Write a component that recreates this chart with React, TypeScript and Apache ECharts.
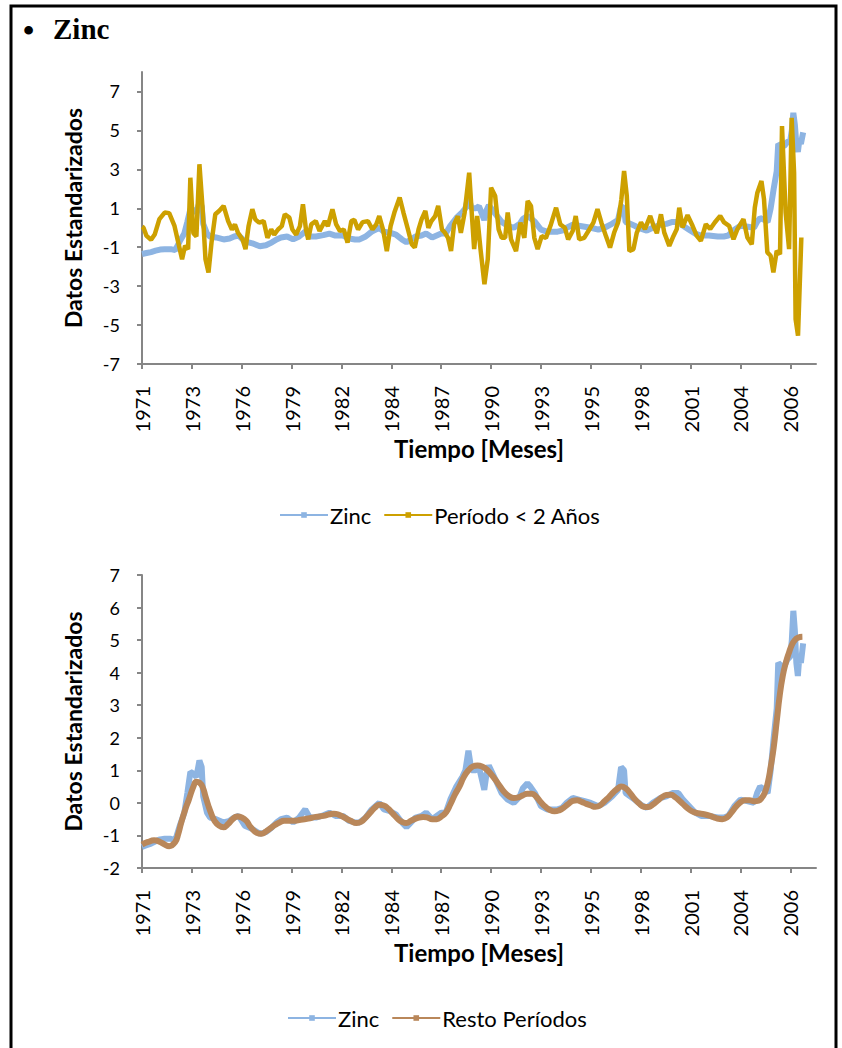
import React, { useEffect, useRef } from "react";
import * as echarts from "echarts";

// Monthly index: 0 = January 1971
const tickYears = ["1971", "1973", "1976", "1979", "1982", "1984", "1987", "1990", "1993", "1995", "1998", "2001", "2004", "2006"];
const tickStep = 33; // months between labelled ticks
const lastMonth = 446;
const xTickValues = tickYears.map((_, i) => i * tickStep);

const topYTicks = [-7, -5, -3, -1, 1, 3, 5, 7];

// Zinc, standardised price series [month, value]
const zinc: [number, number][] = [
  [0, -1.35], [3, -1.3], [6, -1.25], [9, -1.18], [12, -1.12], [15, -1.1], [19, -1.1], [22, -1.15], [25, -0.7], [28, -0.3],
  [30, 0.3], [32, 0.95], [34, 0.9], [36, 0.8], [38, 1.3], [39.5, 1.1], [40.5, 0.2], [43, -0.3], [45, -0.45], [49, -0.5],
  [54, -0.6], [58, -0.55], [61, -0.45], [64, -0.4], [68, -0.7], [73, -0.8], [78, -0.95], [82, -0.9], [86, -0.75], [89, -0.6],
  [92, -0.5], [96, -0.45], [100, -0.6], [104, -0.45], [108, -0.2], [111, -0.45], [115, -0.45], [120, -0.38], [124, -0.3], [128, -0.4],
  [133, -0.4], [137, -0.55], [141, -0.6], [144, -0.6], [148, -0.45], [152, -0.2], [157, 0.0], [160, -0.2], [164, -0.25], [168, -0.35],
  [172, -0.6], [175, -0.75], [178, -0.6], [181, -0.45], [185, -0.4], [188, -0.3], [192, -0.5], [195, -0.4], [198, -0.3], [201, -0.3],
  [204, 0.1], [208, 0.5], [212, 0.8], [214, 1.0], [216, 1.6], [218, 1.0], [221, 1.0], [223, 1.1], [225, 0.7], [226.5, 0.4],
  [228, 0.9], [229.5, 1.15], [232, 0.9], [235, 0.6], [238, 0.3], [242, 0.1], [246, 0.0], [250, 0.2], [252, 0.45], [255, 0.6],
  [257, 0.5], [260, 0.3], [264, -0.1], [268, -0.2], [271, -0.2], [275, -0.2], [278, -0.15], [281, 0.0], [285, 0.15], [289, 0.1],
  [293, 0.05], [297, 0.0], [302, -0.1], [306, 0.0], [311, 0.2], [315, 0.4], [317, 1.1], [319, 1.0], [320, 0.3], [323, 0.2],
  [326, 0.1], [330, -0.05], [334, -0.15], [338, 0.0], [343, 0.15], [347, 0.2], [351, 0.3], [355, 0.3], [358, 0.1], [362, -0.1],
  [366, -0.3], [370, -0.4], [375, -0.4], [381, -0.45], [385, -0.45], [388, -0.4], [392, -0.1], [396, 0.1], [401, 0.05], [405, 0.0],
  [407, 0.3], [409, 0.5], [412, 0.4], [414, 0.3], [416, 1.0], [418, 2.0], [420, 2.9], [421, 4.3], [423, 4.2], [425, 4.2],
  [427, 4.4], [429, 4.5], [430, 5.0], [431, 5.9], [432, 5.3], [433, 4.3], [434, 3.9], [435, 4.5], [436, 4.3], [437.5, 4.9],
];

// Short-period component (< 2 years)
const periodoCorto: [number, number][] = [
  [0, 0.05], [1, 0.0], [3, -0.42], [6, -0.62], [8.5, -0.33], [11.5, 0.44], [15, 0.78], [18, 0.75], [21.5, 0.09], [24, -0.76],
  [26.5, -1.62], [28.5, -0.93], [30.5, -1.1], [32, 2.57], [34, -0.28], [36, -0.45], [38, 3.26], [40, 1.1], [42, -1.62], [44, -2.3],
  [46, -0.76], [48.5, 0.69], [51, 0.86], [54, 1.12], [57, 0.34], [59.5, -0.09], [61.5, 0.17], [63.5, -0.26], [66.5, -0.6], [68.5, -1.1],
  [70.5, 0.08], [73, 0.95], [75, 0.43], [77.5, 0.26], [80.5, 0.34], [83, -0.52], [85.5, -0.09], [87.5, -0.35], [90, -0.09], [92.5, 0.08],
  [94.5, 0.69], [97.5, 0.52], [99.5, -0.09], [102, -0.35], [104.5, 0.08], [106.5, 1.2], [108.5, -0.09], [110, -0.6], [112, 0.17], [115, 0.34],
  [117.5, -0.17], [121, 0.34], [123, 0.08], [126, 0.95], [128.5, 0.17], [131, -0.17], [133.5, -0.09], [136, -0.76], [138.5, 0.34], [140.5, 0.4],
  [143, -0.09], [146, 0.29], [149.5, 0.34], [152.5, -0.09], [155, 0.17], [157, 0.6], [159.5, -0.09], [162, -1.2], [164.5, 0.08], [167, 0.78],
  [170.5, 1.55], [173, 0.78], [176, -0.09], [178.5, -0.85], [180.5, -1.02], [183, -0.09], [185, 0.43], [187.5, 0.86], [189.5, 0.0], [191.5, 0.34],
  [194, 0.6], [196, 1.12], [198.5, -0.09], [200.5, -0.26], [202.5, -0.52], [204.5, -1.2], [206.5, 0.17], [209, 0.6], [211, -0.26], [213.5, 0.78],
  [216.5, 2.83], [218.5, 0.4], [219.8, -1.1], [221.8, 0.6], [224, -1.1], [226.6, -2.9], [228.8, -1.62], [231, 2.06], [233.7, 1.63], [236, -0.09],
  [238, -0.52], [240.3, -0.52], [242, 0.78], [244.2, -0.6], [247.5, -1.2], [250.4, 0.26], [253, -0.52], [255.2, 1.38], [257.4, 1.12], [259.6, -0.52],
  [261.8, -1.1], [264.5, -0.43], [267.3, -0.52], [270.6, 0.17], [274, 1.03], [276.8, 0.17], [279.8, 0.0], [282, -0.6], [285, -0.17], [287, 0.6],
  [289.3, -0.6], [292.6, -0.52], [296, -0.09], [298.7, 0.26], [301.4, 0.95], [304, 0.26], [307, -0.43], [309.7, -1.02], [312.4, -0.26], [315, 0.26],
  [317.2, 1.46], [319, 2.91], [320.8, 1.63], [322.5, -1.2], [325.2, -1.1], [327.4, -0.26], [330.2, 0.27], [332.8, -0.07], [336.3, 0.61], [338.5, 0.1],
  [340.7, -0.28], [343.4, 0.69], [345.6, -0.25], [348.9, -0.93], [351.7, -0.42], [353.9, -0.07], [355.5, 1.03], [357.7, 0.02], [361, 0.65], [364.3, 0.1],
  [367.1, -0.42], [369.8, -0.67], [373.1, 0.18], [376, -0.07], [379, 0.27], [382.6, 0.61], [385.2, 0.27], [388.5, 0.1], [391.4, -0.59], [394, -0.07],
  [398, 0.44], [400.6, -0.5], [403.5, -0.85], [405.5, 1.03], [407.2, 1.8], [409.9, 2.4], [411.6, 1.46], [413.8, -1.27], [416, -1.44], [417.8, -2.3],
  [420, -1.19], [422.2, -1.36], [423.5, 5.22], [425.9, 0.78], [428.2, -1.1], [429.9, 5.65], [431.5, 2.83], [432.5, -4.7], [434.1, -5.55], [436.3, -0.5],
];

// Remaining (longer) periods component
const restoPeriodos: [number, number][] = [
  [0, -1.28], [4, -1.2], [8, -1.15], [12, -1.2], [15, -1.28], [18, -1.33], [22, -1.2], [24, -0.95], [26, -0.6], [29, -0.15],
  [31, 0.1], [34, 0.5], [36, 0.65], [38, 0.62], [40, 0.5], [42, 0.2], [44, -0.1], [46, -0.35], [48, -0.55], [51, -0.7],
  [54, -0.75], [57, -0.65], [60, -0.5], [63, -0.42], [66, -0.45], [69, -0.55], [72, -0.75], [76, -0.92], [79, -0.95], [82, -0.88],
  [85, -0.78], [88, -0.68], [91, -0.6], [94, -0.55], [100, -0.55], [105, -0.52], [110, -0.48], [115, -0.43], [120, -0.4], [124, -0.35],
  [127, -0.33], [130, -0.36], [134, -0.45], [138, -0.55], [142, -0.62], [145, -0.58], [148, -0.45], [151, -0.3], [154, -0.15], [157, -0.06],
  [160, -0.08], [163, -0.18], [166, -0.33], [169, -0.48], [172, -0.58], [175, -0.62], [178, -0.55], [182, -0.47], [186, -0.43], [189, -0.45],
  [192, -0.5], [195, -0.5], [198, -0.42], [201, -0.3], [204, -0.05], [207, 0.25], [210, 0.5], [213, 0.8], [216, 1.0], [219, 1.12],
  [222, 1.15], [225, 1.12], [228, 1.03], [231, 0.88], [234, 0.7], [237, 0.5], [240, 0.32], [243, 0.2], [246, 0.15], [249, 0.17],
  [252, 0.23], [255, 0.28], [258, 0.28], [261, 0.18], [264, 0.02], [267, -0.12], [270, -0.22], [273, -0.26], [276, -0.23], [279, -0.15],
  [282, -0.04], [285, 0.06], [288, 0.08], [291, 0.03], [294, -0.03], [297, -0.08], [300, -0.12], [303, -0.08], [306, 0.05], [309, 0.18],
  [312, 0.33], [315, 0.45], [317, 0.5], [320, 0.45], [323, 0.3], [326, 0.12], [329, -0.02], [332, -0.12], [335, -0.13], [338, -0.05],
  [341, 0.06], [344, 0.17], [347, 0.24], [350, 0.25], [353, 0.17], [356, 0.05], [359, -0.08], [362, -0.2], [365, -0.28], [368, -0.32],
  [372, -0.35], [376, -0.4], [380, -0.47], [384, -0.5], [387, -0.45], [390, -0.3], [393, -0.12], [396, 0.02], [399, 0.08], [402, 0.08],
  [405, 0.05], [408, 0.07], [410, 0.15], [412, 0.3], [414, 0.6], [416, 1.1], [418, 1.7], [420, 2.5], [422, 3.3], [424, 3.9],
  [426, 4.3], [428, 4.6], [430, 4.85], [432, 5.0], [434, 5.07], [437, 5.1],
];

const FONT = 'Lato, "Open Sans", sans-serif';
const AXIS_GREY = "#868686";
const ZINC_BLUE = "#8DB4E2";
const GOLD = "#CDA000";
const BROWN = "#B9875A";

function xAxisFor(gridIndex: number) {
  return {
    type: "value",
    gridIndex,
    min: 0,
    max: lastMonth,
    name: "Tiempo [Meses]",
    nameLocation: "middle",
    nameGap: 70,
    nameTextStyle: { fontFamily: FONT, fontWeight: "bold", fontSize: 24, color: "#000" },
    axisLine: { show: true, onZero: false, lineStyle: { color: AXIS_GREY, width: 2 } },
    axisTick: { show: true, length: 5, customValues: xTickValues, lineStyle: { color: AXIS_GREY, width: 2 } },
    axisLabel: {
      customValues: xTickValues,
      rotate: 90,
      margin: 22,
      fontFamily: FONT,
      fontSize: 20,
      color: "#000",
      formatter: (v: number) => tickYears[Math.round(v / tickStep)] ?? "",
    },
    splitLine: { show: false },
  };
}

function yAxisFor(gridIndex: number, extra: any) {
  return {
    type: "value",
    gridIndex,
    name: "Datos Estandarizados",
    nameLocation: "middle",
    nameGap: 58,
    nameTextStyle: { fontFamily: FONT, fontWeight: "bold", fontSize: 23, color: "#000" },
    axisLine: { show: true, onZero: false, lineStyle: { color: AXIS_GREY, width: 2 } },
    axisTick: { show: true, length: 5, lineStyle: { color: AXIS_GREY, width: 2 }, ...(extra.tick || {}) },
    axisLabel: { margin: 22, fontFamily: FONT, fontSize: 18, color: "#000", ...(extra.label || {}) },
    splitLine: { show: false },
    min: extra.min,
    max: extra.max,
    interval: extra.interval,
  };
}

export default function App() {
  const ref = useRef<HTMLDivElement>(null);

  useEffect(() => {
    if (!ref.current) return;
    const chart = echarts.init(ref.current, undefined, { renderer: "svg" });

    const lineSeries = (name: string, data: [number, number][], color: string, width: number, idx: number, smooth = false) => ({
      name,
      type: "line",
      data,
      xAxisIndex: idx,
      yAxisIndex: idx,
      showSymbol: false,
      symbol: "rect",
      symbolSize: 4,
      smooth,
      lineStyle: { color, width },
      itemStyle: { color },
      z: 2,
    });

    const legendBase = {
      itemWidth: 48,
      itemHeight: 7,
      itemGap: 12,
      selectedMode: false,
      textStyle: { fontFamily: FONT, fontSize: 22, color: "#000", padding: [0, 0, 0, -3] },
    };

    chart.setOption({
      animation: false,
      backgroundColor: "#fff",
      textStyle: { fontFamily: FONT },
      grid: [
        { left: 142, top: 72, width: 674, height: 292 },
        { left: 142, top: 575, width: 674, height: 293 },
      ],
      xAxis: [xAxisFor(0), xAxisFor(1)],
      yAxis: [
        yAxisFor(0, {
          min: -7,
          max: 8,
          tick: { customValues: topYTicks },
          label: { customValues: topYTicks },
        }),
        yAxisFor(1, { min: -2, max: 7, interval: 1 }),
      ],
      legend: [
        { ...legendBase, data: ["Zinc", "Período < 2 Años"], left: 274, top: 499 },
        { ...legendBase, data: ["Zinc", "Resto Períodos"], left: 282, top: 1002 },
      ],
      series: [
        lineSeries("Zinc", zinc, ZINC_BLUE, 6, 0),
        lineSeries("Período < 2 Años", periodoCorto, GOLD, 4.5, 0),
        lineSeries("Zinc", zinc, ZINC_BLUE, 6, 1),
        lineSeries("Resto Períodos", restoPeriodos, BROWN, 6, 1, true),
      ],
      graphic: [
        {
          type: "rect",
          shape: { x: 11, y: 6, width: 825, height: 1100 },
          style: { fill: "none", stroke: "#000", lineWidth: 3 },
          silent: true,
        },
        {
          type: "text",
          x: 23,
          y: 30,
          style: { text: "•", font: 'bold 32px "Liberation Serif", serif', fill: "#000", verticalAlign: "middle" },
        },
        {
          type: "text",
          x: 53,
          y: 29,
          style: { text: "Zinc", font: 'bold 29px "Liberation Serif", serif', fill: "#000", verticalAlign: "middle" },
        },
      ],
    });

    return () => chart.dispose();
  }, []);

  return <div ref={ref} style={{ position: "absolute", left: 0, top: 0, width: 842, height: 1048 }} />;
}
